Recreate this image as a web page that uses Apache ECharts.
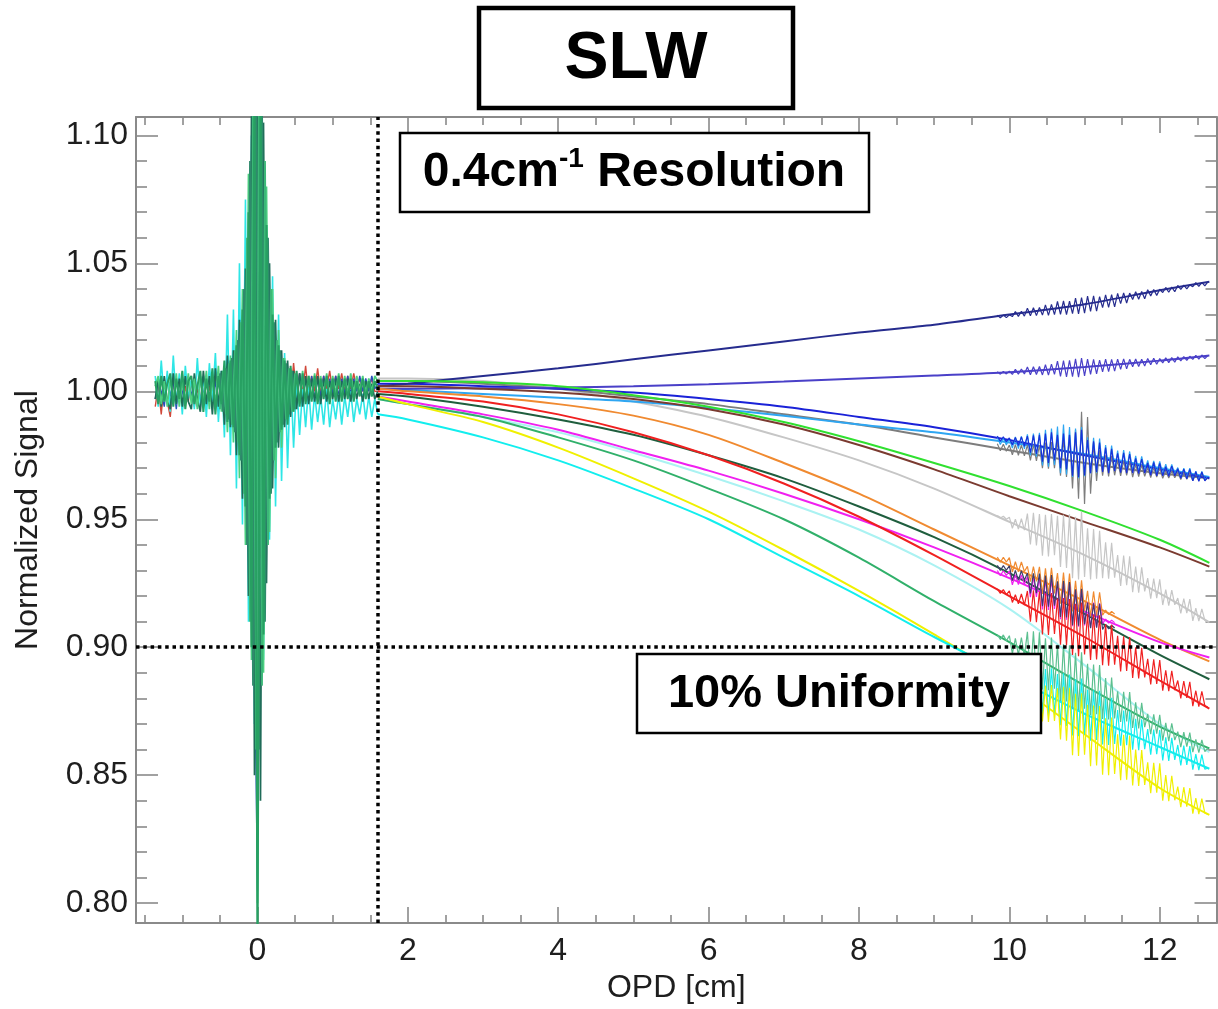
<!DOCTYPE html>
<html><head><meta charset="utf-8">
<script src="https://cdn.jsdelivr.net/npm/echarts@6/dist/echarts.min.js"></script>
<style>html,body{margin:0;padding:0;background:#fff}#c{width:1218px;height:1009px}</style>
</head><body><div id="c"></div>
<script>
// ---------- axis ticks ----------
const xMajorTicks = [0, 2, 4, 6, 8, 10, 12];
const xMinorTicks = [-1.5, -1, -0.5, 0.5, 1, 1.5, 2.5, 3, 3.5, 4.5, 5, 5.5, 6.5, 7, 7.5, 8.5, 9, 9.5, 10.5, 11, 11.5, 12.5];
const yMajorTicks = [0.80, 0.85, 0.90, 0.95, 1.00, 1.05, 1.10];
const yMinorTicks = [0.81, 0.82, 0.83, 0.84, 0.86, 0.87, 0.88, 0.89, 0.91, 0.92, 0.93, 0.94, 0.96, 0.97, 0.98, 0.99, 1.01, 1.02, 1.03, 1.04, 1.06, 1.07, 1.08, 1.09];
const resolutionOPD = 1.6;
const uniformityLevel = 0.90;

// ---------- central interferogram burst (OPD -1.36 .. 1.60, step 0.04) ----------
const burstStart = -1.36, burstStep = 0.04;
const burstRed = [0.994, 1.002, 0.991, 1.004, 0.996, 0.990, 1.003, 0.997, 1.005, 0.993, 1.002, 0.996, 1.004, 0.994, 1.001, 0.997, 1.005, 0.994, 1.002, 0.997, 1.006, 0.995, 1.003, 0.998, 1.007,
  0.993, 1.010, 0.987, 1.018, 0.976, 1.028, 0.960, 1.055, 0.930, 1.060, 0.935, 1.050, 0.968, 1.025, 0.982, 1.015, 0.990, 1.010, 0.995,
  1.008, 0.997, 1.011, 0.998, 1.007, 0.999, 1.010, 0.998, 1.006, 1.000, 1.009, 0.999, 1.006, 1.001, 1.008, 1.000, 1.006, 1.001, 1.007, 1.000, 1.006, 1.001, 1.007, 1.001, 1.005, 1.000, 1.004, 1.001, 1.005, 1.000, 1.000];
const burstBlue = [0.997, 1.004, 1.000, 0.994, 1.006, 0.998, 1.004, 0.993, 1.005, 1.000, 0.995, 1.006, 0.998, 1.004, 0.994, 1.005, 1.000, 0.994, 1.006, 0.997, 1.004, 0.992, 1.007, 0.994, 1.009,
  0.990, 1.012, 0.982, 1.022, 0.968, 1.038, 0.945, 1.075, 0.900, 0.805, 0.985, 1.075, 0.952, 1.035, 0.972, 1.020, 0.985, 1.010, 0.992,
  1.008, 0.994, 1.006, 0.995, 1.007, 0.996, 1.005, 0.997, 1.006, 0.997, 1.005, 0.998, 1.006, 0.998, 1.005, 0.999, 1.006, 0.998, 1.005, 0.999, 1.006, 0.999, 1.005, 1.000, 1.006, 1.000, 1.005, 1.000, 1.006, 1.001, 1.003];
const burstCyan = [1.006, 0.994, 1.012, 0.996, 1.008, 0.992, 1.014, 0.995, 1.007, 0.991, 1.010, 0.997, 1.005, 0.993, 1.013, 0.994, 1.006, 0.990, 1.011, 0.996, 1.015, 0.988, 1.008, 0.982, 1.030,
  0.975, 1.032, 0.962, 1.050, 0.948, 1.075, 0.910, 1.100, 0.870, 0.960, 1.100, 0.895, 1.065, 0.942, 1.045, 0.955, 1.030, 0.965, 1.015,
  0.970, 1.008, 0.978, 1.004, 0.983, 1.001, 0.986, 1.002, 0.985, 0.999, 0.988, 0.998, 0.987, 1.001, 0.986, 0.997, 0.989, 0.999, 0.987, 0.998, 0.990, 1.000, 0.988, 0.997, 0.991, 0.999, 0.989, 0.998, 0.990, 0.997, 0.991];
const burstDarkTeal = [0.997, 1.005, 0.994, 1.006, 0.996, 0.993, 1.007, 0.995, 1.005, 0.994, 1.006, 0.996, 0.993, 1.007, 0.997, 0.992, 1.008, 0.995, 1.006, 0.991, 1.009, 0.994, 1.008, 0.987, 1.014,
  0.986, 1.016, 0.975, 1.028, 0.958, 1.048, 0.920, 1.110, 0.850, 1.130, 0.840, 1.105, 0.925, 1.050, 0.962, 1.028, 0.978, 1.016, 0.986,
  1.012, 0.990, 1.008, 0.993, 1.007, 0.994, 1.006, 0.995, 1.005, 0.996, 1.006, 0.995, 1.005, 0.996, 1.004, 0.997, 1.005, 0.996, 1.004, 0.997, 1.005, 0.996, 1.004, 0.997, 1.003, 0.996, 1.004, 0.997, 1.003, 0.997, 1.000];
const burstLightGreen = [1.002, 1.006, 0.995, 1.004, 0.994, 1.005, 0.997, 1.007, 0.994, 1.004, 0.996, 1.007, 0.995, 1.005, 0.993, 1.006, 0.996, 1.008, 0.993, 1.005, 0.995, 1.010, 0.992, 1.009, 0.984,
  1.014, 0.980, 1.024, 0.966, 1.040, 0.940, 1.085, 0.895, 1.110, 0.800, 1.110, 0.890, 1.080, 0.945, 1.040, 0.966, 1.024, 0.978, 1.013,
  0.990, 1.009, 0.993, 1.007, 0.995, 1.008, 0.996, 1.006, 0.997, 1.007, 0.996, 1.006, 0.998, 1.007, 0.997, 1.006, 0.999, 1.007, 0.998, 1.006, 0.999, 1.007, 0.999, 1.006, 1.000, 1.006, 0.999, 1.005, 1.000, 1.006, 1.004];
const burstSeaGreen = [1.004, 0.995, 1.006, 0.996, 1.003, 1.007, 0.994, 1.005, 0.997, 1.008, 0.993, 1.004, 1.006, 0.995, 1.002, 1.008, 0.992, 1.005, 0.996, 1.009, 0.991, 1.006, 0.995, 1.012, 0.988,
  1.012, 0.986, 1.018, 0.975, 1.032, 0.955, 1.070, 0.900, 1.125, 0.770, 1.125, 0.905, 1.065, 0.958, 1.030, 0.978, 1.018, 0.985, 1.012,
  0.987, 1.010, 0.992, 1.008, 0.994, 1.007, 0.995, 1.006, 0.996, 1.006, 0.995, 1.005, 0.997, 1.006, 0.995, 1.005, 0.996, 1.006, 0.996, 1.005, 0.997, 1.005, 0.996, 1.004, 0.998, 1.005, 0.997, 1.004, 0.998, 1.004, 1.001];
// interleaved core samples (OPD -0.50 .. 0.50, step 0.04, offset by half a step)
const coreStart = -0.50, coreStep = 0.04;
const coreGreen = [0.993, 1.008, 0.991, 1.011, 0.987, 1.016, 0.980, 1.027, 0.960, 1.060, 0.910, 1.115, 0.860, 1.130, 0.885, 1.090, 0.940, 1.040, 0.973, 1.020, 0.984, 1.013, 0.989, 1.009, 0.992, 1.007];
const coreTeal  = [1.007, 0.992, 1.009, 0.989, 1.013, 0.984, 1.020, 0.973, 1.040, 0.940, 1.090, 0.885, 1.130, 0.860, 1.115, 0.910, 1.060, 0.960, 1.027, 0.980, 1.016, 0.987, 1.011, 0.991, 1.008, 0.993];

// ---------- detector trends (OPD 1.6 .. 12.66) ----------
const trendOPD = [1.6, 2, 3, 4, 5, 6, 7, 8, 9, 10, 11, 12, 12.66];
const trendNavy      = [1.002, 1.003, 1.006, 1.009, 1.0125, 1.016, 1.0195, 1.023, 1.026, 1.030, 1.034, 1.0395, 1.0428];
const trendSlate     = [1.001, 1.001, 1.0012, 1.0015, 1.002, 1.0028, 1.0038, 1.005, 1.0062, 1.0075, 1.0095, 1.012, 1.014];
const trendBlue      = [1.003, 1.003, 1.002, 1.001, 0.9995, 0.997, 0.994, 0.990, 0.986, 0.981, 0.975, 0.9695, 0.966];
const trendSky       = [1.001, 1.0005, 0.999, 0.9975, 0.996, 0.9935, 0.9905, 0.987, 0.984, 0.980, 0.9755, 0.970, 0.9665];
const trendDimGray   = [1.004, 1.004, 1.003, 1.001, 0.998, 0.995, 0.991, 0.987, 0.982, 0.977, 0.972, 0.968, 0.966];
const trendLime      = [1.004, 1.004, 1.0035, 1.002, 0.9985, 0.994, 0.988, 0.9805, 0.972, 0.963, 0.953, 0.942, 0.933];
const trendBrown     = [1.002, 1.002, 1.001, 0.9995, 0.997, 0.993, 0.987, 0.979, 0.9695, 0.959, 0.949, 0.939, 0.9315];
const trendSilver    = [1.005, 1.005, 1.004, 1.001, 0.996, 0.990, 0.982, 0.973, 0.962, 0.949, 0.936, 0.921, 0.9097];
const trendOrange    = [1.001, 1.000, 0.998, 0.995, 0.9905, 0.983, 0.972, 0.960, 0.946, 0.932, 0.918, 0.903, 0.8945];
const trendDarkGreen = [0.999, 0.998, 0.994, 0.989, 0.983, 0.975, 0.966, 0.955, 0.943, 0.929, 0.913, 0.897, 0.8875];
const trendMagenta   = [0.998, 0.996, 0.991, 0.985, 0.977, 0.969, 0.960, 0.950, 0.939, 0.927, 0.914, 0.902, 0.896];
const trendRed       = [1.000, 0.999, 0.996, 0.991, 0.984, 0.975, 0.964, 0.951, 0.936, 0.920, 0.904, 0.887, 0.876];
const trendPaleCyan  = [0.997, 0.995, 0.990, 0.984, 0.976, 0.967, 0.957, 0.946, 0.932, 0.915, 0.893, 0.870, 0.859];
const trendSeaGreen  = [0.997, 0.995, 0.990, 0.982, 0.973, 0.962, 0.950, 0.935, 0.918, 0.902, 0.885, 0.869, 0.8605];
const trendYellow    = [0.998, 0.995, 0.988, 0.978, 0.966, 0.953, 0.938, 0.922, 0.905, 0.887, 0.866, 0.845, 0.8345];
const trendCyan      = [0.991, 0.989, 0.982, 0.973, 0.962, 0.950, 0.935, 0.920, 0.904, 0.889, 0.874, 0.861, 0.8525];

// ---------- ripples at large OPD (OPD from 9.84, step 0.04) ----------
const rippleStart = 9.84, rippleStep = 0.04;
const rippleNavy = [1.0297, 1.0287, 1.0298, 1.0288, 1.0299, 1.0292, 1.0312, 1.0293, 1.0313, 1.0294, 1.0325, 1.0295, 1.0327, 1.0296, 1.0328,
  1.0298, 1.0338, 1.0297, 1.0340, 1.0300, 1.0351, 1.0301, 1.0353, 1.0300, 1.0352, 1.0304, 1.0364, 1.0303, 1.0366, 1.0306,
  1.0372, 1.0312, 1.0373, 1.0313, 1.0370, 1.0327, 1.0377, 1.0328, 1.0378, 1.0330, 1.0383, 1.0343, 1.0385, 1.0345, 1.0384,
  1.0359, 1.0389, 1.0360, 1.0390, 1.0362, 1.0397, 1.0373, 1.0398, 1.0375, 1.0399, 1.0386, 1.0406, 1.0387, 1.0407, 1.0389,
  1.0414, 1.0398, 1.0415, 1.0400, 1.0416, 1.0409, 1.0425, 1.0410, 1.0426, 1.0412, 1.0428];
const rippleSlate = [1.0077, 1.0067, 1.0078, 1.0068, 1.0079, 1.0066, 1.0086, 1.0067, 1.0087, 1.0068, 1.0095, 1.0065, 1.0096, 1.0066, 1.0097,
  1.0064, 1.0104, 1.0063, 1.0106, 1.0066, 1.0118, 1.0058, 1.0120, 1.0056, 1.0121, 1.0057, 1.0127, 1.0055, 1.0130, 1.0060,
  1.0126, 1.0066, 1.0125, 1.0068, 1.0122, 1.0076, 1.0126, 1.0077, 1.0125, 1.0079, 1.0126, 1.0086, 1.0127, 1.0088, 1.0125,
  1.0096, 1.0126, 1.0097, 1.0125, 1.0099, 1.0128, 1.0104, 1.0129, 1.0106, 1.0128, 1.0111, 1.0131, 1.0112, 1.0132, 1.0114,
  1.0135, 1.0119, 1.0136, 1.0121, 1.0137, 1.0125, 1.0141, 1.0126, 1.0142, 1.0128, 1.0140];
const rippleBlue = [0.9825, 0.9805, 0.9822, 0.9803, 0.9818, 0.9790, 0.9820, 0.9788, 0.9822, 0.9785, 0.9825, 0.9760, 0.9828, 0.9755, 0.9830,
  0.9725, 0.9835, 0.9720, 0.9840, 0.9730, 0.9830, 0.9700, 0.9835, 0.9695, 0.9830, 0.9670, 0.9840, 0.9665, 0.9850, 0.9672,
  0.9810, 0.9680, 0.9805, 0.9685, 0.9800, 0.9685, 0.9780, 0.9680, 0.9775, 0.9688, 0.9758, 0.9682, 0.9760, 0.9680, 0.9755,
  0.9680, 0.9738, 0.9678, 0.9735, 0.9680, 0.9720, 0.9672, 0.9722, 0.9670, 0.9718, 0.9670, 0.9706, 0.9668, 0.9708, 0.9670,
  0.9698, 0.9660, 0.9696, 0.9658, 0.9695, 0.9650, 0.9686, 0.9648, 0.9685, 0.9650, 0.9665];
const rippleSky = [0.9820, 0.9792, 0.9818, 0.9790, 0.9815, 0.9778, 0.9822, 0.9776, 0.9824, 0.9775, 0.9832, 0.9750, 0.9835, 0.9745, 0.9838,
  0.9710, 0.9850, 0.9705, 0.9855, 0.9712, 0.9862, 0.9680, 0.9870, 0.9675, 0.9860, 0.9665, 0.9855, 0.9660, 0.9860, 0.9668,
  0.9820, 0.9680, 0.9818, 0.9682, 0.9815, 0.9690, 0.9790, 0.9688, 0.9788, 0.9692, 0.9768, 0.9690, 0.9770, 0.9692, 0.9765,
  0.9688, 0.9748, 0.9686, 0.9746, 0.9690, 0.9730, 0.9680, 0.9728, 0.9682, 0.9726, 0.9675, 0.9715, 0.9674, 0.9714, 0.9676,
  0.9702, 0.9662, 0.9700, 0.9663, 0.9700, 0.9652, 0.9688, 0.9653, 0.9687, 0.9654, 0.9668];
const rippleDimGray = [0.9795, 0.9768, 0.9793, 0.9766, 0.9790, 0.9752, 0.9792, 0.9750, 0.9790, 0.9748, 0.9790, 0.9730, 0.9792, 0.9728, 0.9790,
  0.9700, 0.9800, 0.9698, 0.9802, 0.9700, 0.9810, 0.9670, 0.9815, 0.9665, 0.9830, 0.9620, 0.9850, 0.9580, 0.9920, 0.9560,
  0.9900, 0.9600, 0.9800, 0.9650, 0.9770, 0.9670, 0.9750, 0.9668, 0.9748, 0.9672, 0.9730, 0.9670, 0.9728, 0.9672, 0.9726,
  0.9665, 0.9715, 0.9667, 0.9713, 0.9668, 0.9703, 0.9663, 0.9701, 0.9665, 0.9700, 0.9660, 0.9690, 0.9661, 0.9689, 0.9662,
  0.9685, 0.9655, 0.9684, 0.9656, 0.9683, 0.9650, 0.9680, 0.9651, 0.9679, 0.9652, 0.9662];
const rippleSilver = [0.9515, 0.9505, 0.9512, 0.9500, 0.9508, 0.9465, 0.9500, 0.9462, 0.9502, 0.9458, 0.9522, 0.9402, 0.9525, 0.9398, 0.9520,
  0.9358, 0.9518, 0.9355, 0.9520, 0.9360, 0.9514, 0.9314, 0.9518, 0.9310, 0.9520, 0.9270, 0.9510, 0.9265, 0.9530, 0.9275,
  0.9465, 0.9265, 0.9462, 0.9268, 0.9455, 0.9270, 0.9410, 0.9268, 0.9408, 0.9272, 0.9360, 0.9240, 0.9358, 0.9242, 0.9355,
  0.9215, 0.9315, 0.9213, 0.9312, 0.9218, 0.9270, 0.9190, 0.9268, 0.9192, 0.9265, 0.9165, 0.9225, 0.9163, 0.9223, 0.9166,
  0.9192, 0.9132, 0.9190, 0.9133, 0.9188, 0.9103, 0.9153, 0.9102, 0.9150, 0.9105, 0.9100];
const rippleOrange = [0.9352, 0.9332, 0.9351, 0.9333, 0.9350, 0.9294, 0.9334, 0.9295, 0.9333, 0.9296, 0.9316, 0.9256, 0.9315, 0.9257, 0.9314,
  0.9208, 0.9308, 0.9207, 0.9310, 0.9210, 0.9290, 0.9170, 0.9292, 0.9168, 0.9288, 0.9140, 0.9260, 0.9138, 0.9262, 0.9142,
  0.9220, 0.9120, 0.9218, 0.9122, 0.9215, 0.9125, 0.9145, 0.9128, 0.9140, 0.9130];
const rippleMagenta = [0.9300, 0.9280, 0.9299, 0.9281, 0.9298, 0.9244, 0.9284, 0.9245, 0.9283, 0.9246, 0.9276, 0.9196, 0.9275, 0.9197, 0.9274,
  0.9148, 0.9268, 0.9146, 0.9270, 0.9150, 0.9250, 0.9110, 0.9252, 0.9108, 0.9248, 0.9082, 0.9222, 0.9080, 0.9224, 0.9085,
  0.9176, 0.9076, 0.9175, 0.9078, 0.9172, 0.9092, 0.9110, 0.9094, 0.9106, 0.9096];
const rippleDarkGreen = [0.9320, 0.9300, 0.9319, 0.9301, 0.9318, 0.9260, 0.9300, 0.9261, 0.9299, 0.9262, 0.9290, 0.9210, 0.9289, 0.9211, 0.9288,
  0.9160, 0.9280, 0.9158, 0.9282, 0.9162, 0.9258, 0.9118, 0.9260, 0.9116, 0.9255, 0.9086, 0.9226, 0.9084, 0.9228, 0.9090,
  0.9174, 0.9074, 0.9172, 0.9076, 0.9170, 0.9070, 0.9090, 0.9072, 0.9086, 0.9075];
const rippleRed = [0.9228, 0.9210, 0.9225, 0.9206, 0.9220, 0.9175, 0.9205, 0.9170, 0.9208, 0.9165, 0.9220, 0.9100, 0.9222, 0.9098, 0.9218,
  0.9050, 0.9210, 0.9048, 0.9212, 0.9052, 0.9190, 0.9010, 0.9192, 0.9008, 0.9188, 0.8970, 0.9170, 0.8965, 0.9175, 0.8972,
  0.9130, 0.8950, 0.9128, 0.8952, 0.9125, 0.8930, 0.9090, 0.8928, 0.9088, 0.8932, 0.9045, 0.8905, 0.9043, 0.8907, 0.9040,
  0.8880, 0.9000, 0.8878, 0.8998, 0.8882, 0.8955, 0.8855, 0.8953, 0.8857, 0.8950, 0.8830, 0.8910, 0.8828, 0.8908, 0.8832,
  0.8870, 0.8800, 0.8868, 0.8802, 0.8865, 0.8770, 0.8830, 0.8768, 0.8828, 0.8772, 0.8765];
const rippleSeaGreen = [0.9050, 0.9030, 0.9048, 0.9025, 0.9045, 0.8975, 0.9035, 0.8970, 0.9038, 0.8965, 0.9060, 0.8880, 0.9062, 0.8878, 0.9058,
  0.8835, 0.9035, 0.8832, 0.9038, 0.8838, 0.9010, 0.8790, 0.9012, 0.8788, 0.9008, 0.8758, 0.8978, 0.8755, 0.8980, 0.8760,
  0.8935, 0.8735, 0.8932, 0.8738, 0.8930, 0.8720, 0.8880, 0.8718, 0.8882, 0.8722, 0.8828, 0.8708, 0.8826, 0.8710, 0.8825,
  0.8685, 0.8785, 0.8683, 0.8783, 0.8688, 0.8740, 0.8660, 0.8738, 0.8662, 0.8736, 0.8635, 0.8705, 0.8633, 0.8703, 0.8637,
  0.8670, 0.8610, 0.8668, 0.8612, 0.8666, 0.8590, 0.8640, 0.8588, 0.8638, 0.8592, 0.8607];
const rippleYellow = [0.8898, 0.8882, 0.8895, 0.8880, 0.8892, 0.8845, 0.8868, 0.8840, 0.8866, 0.8838, 0.8870, 0.8770, 0.8868, 0.8772, 0.8866,
  0.8710, 0.8850, 0.8708, 0.8852, 0.8712, 0.8840, 0.8640, 0.8845, 0.8635, 0.8842, 0.8578, 0.8818, 0.8575, 0.8820, 0.8580,
  0.8775, 0.8535, 0.8772, 0.8538, 0.8770, 0.8502, 0.8722, 0.8500, 0.8725, 0.8505, 0.8660, 0.8480, 0.8658, 0.8482, 0.8655,
  0.8460, 0.8600, 0.8458, 0.8598, 0.8462, 0.8550, 0.8430, 0.8548, 0.8432, 0.8546, 0.8400, 0.8500, 0.8398, 0.8498, 0.8402,
  0.8455, 0.8375, 0.8453, 0.8377, 0.8450, 0.8350, 0.8410, 0.8348, 0.8408, 0.8352, 0.8348];
const rippleCyan = [0.8925, 0.8905, 0.8922, 0.8900, 0.8918, 0.8855, 0.8910, 0.8850, 0.8912, 0.8848, 0.8935, 0.8775, 0.8938, 0.8772, 0.8932,
  0.8735, 0.8915, 0.8732, 0.8918, 0.8738, 0.8895, 0.8695, 0.8898, 0.8692, 0.8893, 0.8655, 0.8875, 0.8652, 0.8878, 0.8658,
  0.8835, 0.8635, 0.8832, 0.8638, 0.8830, 0.8620, 0.8800, 0.8618, 0.8802, 0.8622, 0.8755, 0.8615, 0.8753, 0.8617, 0.8750,
  0.8600, 0.8720, 0.8598, 0.8718, 0.8602, 0.8680, 0.8580, 0.8678, 0.8582, 0.8676, 0.8558, 0.8648, 0.8556, 0.8646, 0.8560,
  0.8618, 0.8538, 0.8616, 0.8540, 0.8614, 0.8522, 0.8582, 0.8520, 0.8580, 0.8524, 0.8527];

// ---------- build ----------
const FONT = '"Liberation Sans", Arial, Helvetica, sans-serif';
const AXIS_GRAY = '#8a8a8a';
const TEXT_COL = '#1e1e1e';
const X_MIN = -1.616, X_MAX = 12.755, Y_MIN = 0.7922, Y_MAX = 1.1072;

function grid(start, step, ys) { return ys.map((y, i) => [Math.round((start + step * i) * 1000) / 1000, y]); }
function trend(ys) { return ys.map((y, i) => [trendOPD[i], y]); }
function line(data, color, width, extra) {
  return Object.assign({ type: 'line', data: data, symbol: 'none', showSymbol: false, silent: true,
    lineStyle: { color: color, width: width }, itemStyle: { color: color }, animation: false, clip: true,
    xAxisIndex: 0, yAxisIndex: 0 }, extra || {});
}
const rp = ys => grid(rippleStart, rippleStep, ys);
const bp = ys => grid(burstStart, burstStep, ys);

const series = [
  line(bp(burstRed), '#d0483a', 1.4),
  line(bp(burstBlue), '#2a4fb8', 1.4),
  line(bp(burstCyan), '#2ee6e6', 1.6),
  line(bp(burstDarkTeal), '#1f6b58', 1.7),
  line(bp(burstLightGreen), '#4cd080', 1.7),
  line(grid(coreStart, coreStep, coreTeal), '#2f8a6c', 1.8),
  line(grid(coreStart, coreStep, coreGreen), '#3cb878', 1.8),
  line(bp(burstSeaGreen), '#27a062', 2.0),

  line(trend(trendPaleCyan), '#aaf2f2', 2, { smooth: 0.3 }),
  line(trend(trendSilver), '#c6c6c6', 2, { smooth: 0.3 }),
  line(trend(trendDimGray), '#7d7d7d', 2, { smooth: 0.3 }),
  line(trend(trendSky), '#2ea6f2', 2, { smooth: 0.3 }),
  line(trend(trendBlue), '#1a22d8', 2, { smooth: 0.3 }),
  line(trend(trendSlate), '#4a40c8', 2, { smooth: 0.3 }),
  line(trend(trendNavy), '#262c8e', 2, { smooth: 0.3 }),
  line(trend(trendLime), '#30e030', 2, { smooth: 0.3 }),
  line(trend(trendBrown), '#7b3b30', 2, { smooth: 0.3 }),
  line(trend(trendOrange), '#f08a30', 2, { smooth: 0.3 }),
  line(trend(trendMagenta), '#f020f0', 2, { smooth: 0.3 }),
  line(trend(trendDarkGreen), '#1f5e3e', 2, { smooth: 0.3 }),
  line(trend(trendRed), '#f02020', 2, { smooth: 0.3 }),
  line(trend(trendSeaGreen), '#30b06a', 2, { smooth: 0.3 }),
  line(trend(trendYellow), '#f0f000', 2, { smooth: 0.3 }),
  line(trend(trendCyan), '#12eeee', 2, { smooth: 0.3 }),

  line(rp(rippleSilver), '#c6c6c6', 1.2),
  line(rp(rippleDimGray), '#7d7d7d', 1.2),
  line(rp(rippleSky), '#2ea6f2', 1.2),
  line(rp(rippleBlue), '#1a30d8', 1.2),
  line(rp(rippleSlate), '#4a40c8', 1.2),
  line(rp(rippleNavy), '#262c8e', 1.2),
  line(rp(rippleOrange), '#f08a30', 1.2),
  line(rp(rippleMagenta), '#f020f0', 1.2),
  line(rp(rippleDarkGreen), '#3d3f6a', 1.2),
  line(rp(rippleRed), '#f02020', 1.2),
  line(rp(rippleSeaGreen), '#5cc090', 1.2),
  line(rp(rippleCyan), '#12eeee', 1.2),
  line(rp(rippleYellow), '#f0f000', 1.2),

  { type: 'line', data: [], z: 20, silent: true, xAxisIndex: 0, yAxisIndex: 0,
    markLine: { silent: true, symbol: 'none', animation: false, label: { show: false },
      lineStyle: { type: [3.5, 3.8], color: '#000', width: 3.5 },
      data: [{ xAxis: resolutionOPD }, { yAxis: uniformityLevel }] } }
];

function xAx(pos, ticks, len, showLine, showLabel, extra) {
  return Object.assign({
    type: 'value', position: pos, min: X_MIN, max: X_MAX, gridIndex: 0,
    axisLine: { show: showLine, onZero: false, lineStyle: { color: AXIS_GRAY, width: 2 } },
    axisTick: { show: true, inside: true, length: len, customValues: ticks, lineStyle: { color: AXIS_GRAY, width: 1.6 } },
    axisLabel: { show: showLabel, customValues: ticks, fontSize: 32, fontFamily: FONT, color: TEXT_COL, margin: 12 },
    splitLine: { show: false }
  }, extra || {});
}
function yAx(pos, ticks, len, showLine, showLabel, extra) {
  return Object.assign({
    type: 'value', position: pos, min: Y_MIN, max: Y_MAX, gridIndex: 0,
    axisLine: { show: showLine, onZero: false, lineStyle: { color: AXIS_GRAY, width: 2 } },
    axisTick: { show: true, inside: true, length: len, customValues: ticks, lineStyle: { color: AXIS_GRAY, width: 1.6 } },
    axisLabel: { show: showLabel, customValues: ticks, fontSize: 32, fontFamily: FONT, color: TEXT_COL, margin: 8,
      formatter: v => v.toFixed(2) },
    splitLine: { show: false }
  }, extra || {});
}

const option = {
  backgroundColor: '#fff',
  animation: false,
  grid: { left: 136, right: 1.5, top: 117, bottom: 84, containLabel: false },
  xAxis: [
    xAx('bottom', xMajorTicks, 16, true, true, { name: 'OPD [cm]', nameLocation: 'middle', nameGap: 48,
      nameTextStyle: { fontSize: 32, fontFamily: FONT, color: TEXT_COL } }),
    xAx('bottom', xMinorTicks, 8, false, false),
    xAx('top', xMajorTicks, 16, true, false),
    xAx('top', xMinorTicks, 8, false, false)
  ],
  yAxis: [
    yAx('left', yMajorTicks, 22, true, true, { name: 'Normalized Signal', nameLocation: 'middle', nameGap: 92,
      nameTextStyle: { fontSize: 32, fontFamily: FONT, color: TEXT_COL } }),
    yAx('left', yMinorTicks, 11, false, false),
    yAx('right', yMajorTicks, 22, true, false),
    yAx('right', yMinorTicks, 11, false, false)
  ],
  series: series,
  graphic: [
    { type: 'rect', z: 100, shape: { x: 479, y: 8, width: 314, height: 100 },
      style: { fill: '#fff', stroke: '#000', lineWidth: 4.5 } },
    { type: 'text', z: 101, x: 636, y: 60,
      style: { text: 'SLW', font: 'bold 66px ' + FONT, fill: '#000', align: 'center', verticalAlign: 'middle' } },
    { type: 'rect', z: 100, shape: { x: 400, y: 133, width: 469, height: 79 },
      style: { fill: '#fff', stroke: '#000', lineWidth: 2.5 } },
    { type: 'text', z: 101, x: 634, y: 173,
      style: { text: '{m|0.4cm}{s|-1}{m| Resolution}', align: 'center', verticalAlign: 'middle', fill: '#000',
        rich: {
          m: { fontSize: 48, fontWeight: 'bold', fontFamily: FONT, lineHeight: 56, fill: '#000' },
          s: { fontSize: 28, fontWeight: 'bold', fontFamily: FONT, lineHeight: 30, verticalAlign: 'top', fill: '#000' }
        } } },
    { type: 'rect', z: 100, shape: { x: 637, y: 654, width: 404, height: 79 },
      style: { fill: '#fff', stroke: '#000', lineWidth: 2.5 } },
    { type: 'text', z: 101, x: 839, y: 694,
      style: { text: '10% Uniformity', font: 'bold 47px ' + FONT, fill: '#000', align: 'center', verticalAlign: 'middle' } }
  ]
};

const chart = echarts.init(document.getElementById('c'), null, { renderer: 'canvas' });
chart.setOption(option);
</script>
</body></html>
